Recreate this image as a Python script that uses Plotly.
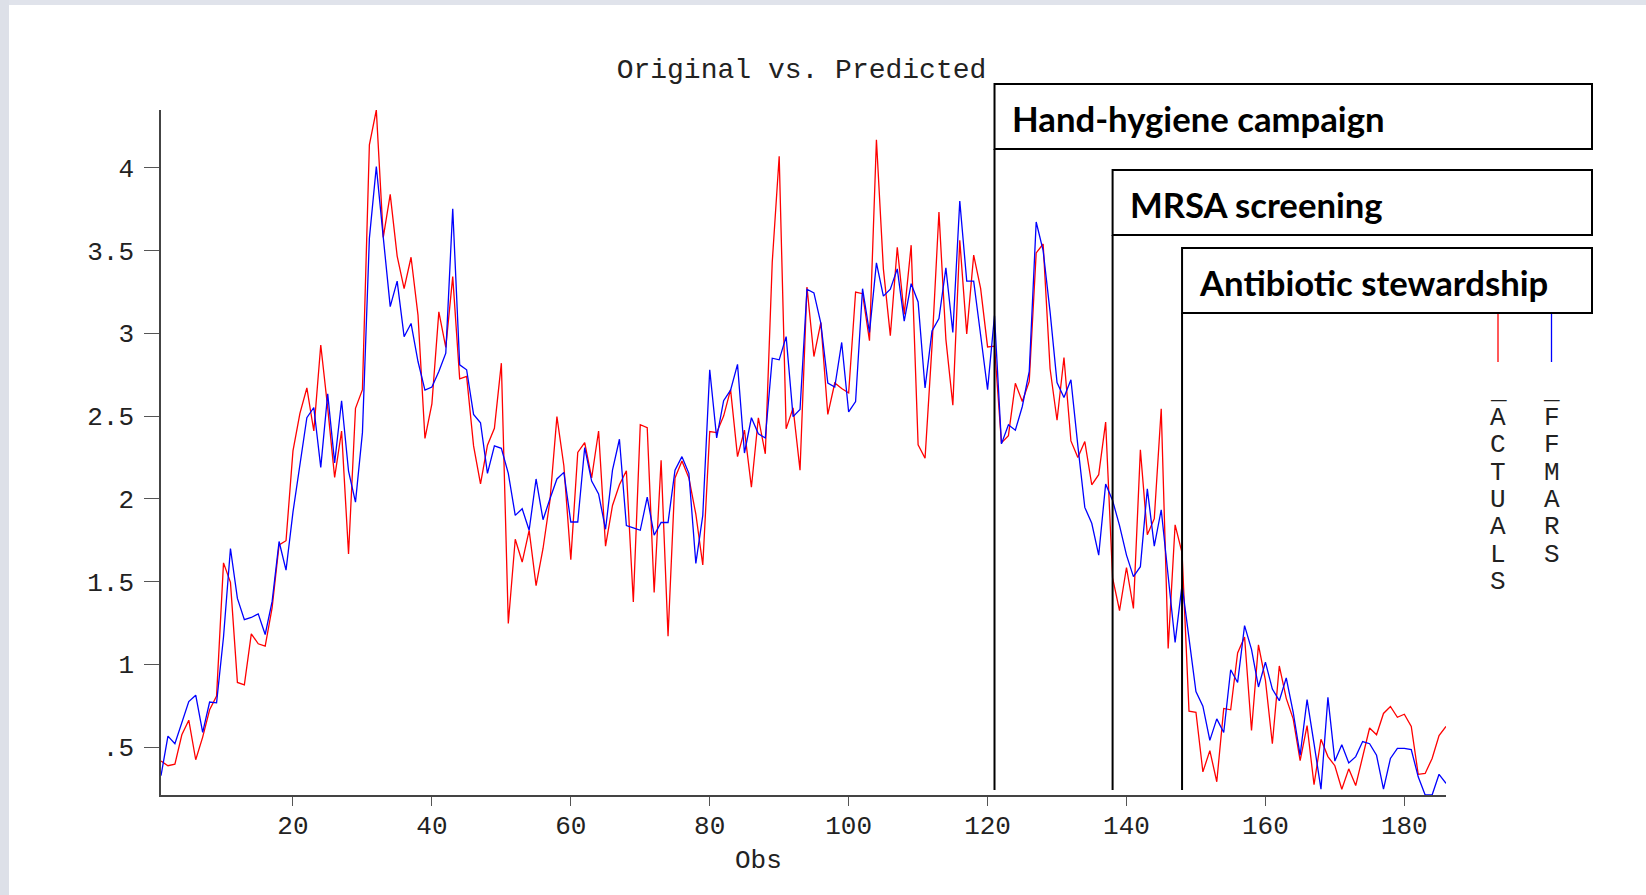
import plotly.graph_objects as go

# ---- data -------------------------------------------------------------
obs = list(range(1, 187))

actuals = [
    0.415, 0.387, 0.396, 0.574, 0.662, 0.423, 0.56, 0.725, 0.808, 1.613,
    1.495, 0.89, 0.876, 1.184, 1.124, 1.11, 1.343, 1.722, 1.747, 2.29,
    2.516, 2.67, 2.41, 2.93, 2.55, 2.13, 2.41, 1.667, 2.547, 2.66,
    4.14, 4.35, 3.58, 3.84, 3.467, 3.27, 3.46, 3.11, 2.365, 2.574,
    3.13, 2.915, 3.343, 2.725, 2.74, 2.32, 2.09, 2.324, 2.426, 2.82,
    1.247, 1.756, 1.618, 1.81, 1.475, 1.70, 1.99, 2.497, 2.20, 1.632,
    2.28, 2.34, 2.126, 2.41, 1.714, 1.96, 2.085, 2.17, 1.376, 2.448,
    2.43, 1.434, 2.233, 1.17, 2.126, 2.228, 2.126, 1.907, 1.60, 2.407,
    2.40, 2.50, 2.66, 2.255, 2.415, 2.07, 2.49, 2.272, 3.43, 4.07,
    2.423, 2.55, 2.173, 3.28, 2.86, 3.066, 2.51, 2.70, 2.667, 2.64,
    3.25, 3.24, 2.956, 4.17, 3.39, 2.986, 3.52, 3.115, 3.533, 2.327,
    2.245, 2.923, 3.733, 2.964, 2.566, 3.563, 2.997, 3.473, 3.272, 2.918,
    2.923, 2.338, 2.382, 2.698, 2.588, 2.71, 3.486, 3.54, 2.786, 2.475,
    2.854, 2.35, 2.25, 2.346, 2.085, 2.146, 2.464, 1.522, 1.324, 1.585,
    1.338, 2.297, 1.783, 1.88, 2.544, 1.096, 1.843, 1.673, 0.717, 0.71,
    0.35, 0.478, 0.29, 0.733, 0.725, 1.068, 1.165, 0.60, 1.118, 0.904,
    0.52, 0.99, 0.794, 0.67, 0.418, 0.63, 0.272, 0.547, 0.442, 0.387,
    0.245, 0.368, 0.267, 0.45, 0.615, 0.574, 0.703, 0.745, 0.68, 0.698,
    0.624, 0.335, 0.34, 0.431, 0.569, 0.624,
]

ffmars = [
    0.327, 0.566, 0.52, 0.648, 0.775, 0.813, 0.588, 0.772, 0.767, 1.165,
    1.70, 1.398, 1.27, 1.283, 1.305, 1.18, 1.38, 1.742, 1.569, 1.92,
    2.21, 2.49, 2.552, 2.19, 2.635, 2.217, 2.593, 2.168, 1.98, 2.40,
    3.574, 4.008, 3.58, 3.162, 3.316, 2.98, 3.06, 2.83, 2.657, 2.676,
    2.77, 2.88, 3.753, 2.81, 2.78, 2.51, 2.46, 2.154, 2.32, 2.305,
    2.154, 1.90, 1.94, 1.81, 2.12, 1.874, 2.00, 2.12, 2.16, 1.86,
    1.86, 2.31, 2.107, 2.03, 1.816, 2.173, 2.36, 1.838, 1.824, 1.81,
    2.01, 1.78, 1.857, 1.857, 2.173, 2.255, 2.154, 1.61, 1.90, 2.78,
    2.368, 2.593, 2.657, 2.813, 2.277, 2.49, 2.393, 2.368, 2.85, 2.84,
    2.98, 2.497, 2.54, 3.267, 3.245, 3.06, 2.70, 2.676, 2.945, 2.525,
    2.588, 3.27, 3.005, 3.426, 3.225, 3.267, 3.39, 3.074, 3.30, 3.19,
    2.67, 3.014, 3.09, 3.396, 3.005, 3.80, 3.316, 3.316, 2.99, 2.66,
    3.107, 2.332, 2.448, 2.415, 2.558, 2.77, 3.673, 3.50, 3.13, 2.703,
    2.613, 2.72, 2.32, 1.948, 1.852, 1.66, 2.09, 1.99, 1.838, 1.66,
    1.53, 1.59, 2.06, 1.714, 1.934, 1.54, 1.132, 1.48, 1.15, 0.835,
    0.747, 0.54, 0.67, 0.588, 0.967, 0.89, 1.234, 1.09, 0.863, 1.013,
    0.85, 0.78, 0.918, 0.71, 0.45, 0.786, 0.52, 0.245, 0.80, 0.415,
    0.514, 0.404, 0.442, 0.533, 0.52, 0.45, 0.245, 0.431, 0.492, 0.492,
    0.484, 0.32, 0.21, 0.21, 0.335, 0.28,
]

series_names = ["_ACTUALS", "_FFMARS"]
series_colors = ["#ff0000", "#0000ff"]

y_tickvals = [0.5, 1, 1.5, 2, 2.5, 3, 3.5, 4]
y_ticktext = [".5", "1", "1.5", "2", "2.5", "3", "3.5", "4"]
x_tickvals = [20, 40, 60, 80, 100, 120, 140, 160, 180]

interventions = ["Hand-hygiene campaign", "MRSA screening", "Antibiotic stewardship"]
intervention_obs = [121, 138, 148]

# ---- page geometry (pixels) -------------------------------------------
W, H = 1646, 895
M_L, M_R, M_T, M_B = 161, 200, 110, 100
PW, PH = W - M_L - M_R, H - M_T - M_B

def px_x(px):
    return (px - M_L) / PW

def px_y(py):
    return (H - M_B - py) / PH

mono = "Courier New, Liberation Mono, monospace"
label_font = "Lato, Open Sans, sans-serif"

x_min, x_max = obs[0], obs[-1]
y_min = min(min(actuals), min(ffmars))
y_max = max(max(actuals), max(ffmars))

def obs_to_paper(v):
    return (v - x_min) / (x_max - x_min)

fig = go.Figure()
for name, vals, col in zip(series_names, [actuals, ffmars], series_colors):
    fig.add_trace(go.Scatter(x=obs, y=vals, mode="lines", name=name,
                             line=dict(color=col, width=1.3),
                             showlegend=False, hoverinfo="x+y"))

shapes = []
annotations = []

# screenshot frame strips
shapes.append(dict(type="rect", xref="paper", yref="paper", layer="below",
                   x0=px_x(0), x1=px_x(W), y0=px_y(0), y1=px_y(5),
                   fillcolor="#e0e3eb", line=dict(width=0)))
shapes.append(dict(type="rect", xref="paper", yref="paper", layer="below",
                   x0=px_x(0), x1=px_x(9), y0=px_y(0), y1=px_y(H),
                   fillcolor="#dde0e8", line=dict(width=0)))

# legend keys: short vertical line + stacked letters
legend_cols = [1498, 1551.5]
for name, col, cx in zip(series_names, series_colors, legend_cols):
    shapes.append(dict(type="line", xref="paper", yref="paper",
                       x0=px_x(cx), x1=px_x(cx), y0=px_y(313), y1=px_y(362),
                       line=dict(color=col, width=1.3)))
    for i, ch in enumerate(name):
        annotations.append(dict(text=ch, xref="paper", yref="paper",
                                x=px_x(cx), y=px_y(390.7 + i * 27.3),
                                xanchor="center", yanchor="middle",
                                showarrow=False,
                                font=dict(family=mono, size=26, color="#222")))

# intervention boxes with their vertical start lines
box_tops = [84, 170, 248]
box_h = 65
box_right = 1592
for label, start, top in zip(interventions, intervention_obs, box_tops):
    bottom = top + box_h
    shapes.append(dict(type="line", xref="x", yref="paper",
                       x0=start, x1=start, y0=px_y(790), y1=px_y(bottom),
                       line=dict(color="#000", width=2)))
    shapes.append(dict(type="rect", xref="paper", yref="paper",
                       x0=obs_to_paper(start), x1=px_x(box_right),
                       y0=px_y(bottom), y1=px_y(top),
                       fillcolor="white", line=dict(color="#000", width=2)))
    annotations.append(dict(text="<b>" + label + "</b>", xref="paper", yref="paper",
                            x=obs_to_paper(start) + 15 / PW, y=px_y(top + box_h / 2 + 2),
                            xanchor="left", yanchor="middle", showarrow=False,
                            font=dict(family=label_font, size=34.7, color="#000")))

# x axis title
annotations.append(dict(text="Obs", xref="paper", yref="paper",
                        x=px_x(758), y=px_y(861), xanchor="center", yanchor="middle",
                        showarrow=False, font=dict(family=mono, size=26, color="#222")))

fig.update_layout(
    width=W, height=H, autosize=False,
    margin=dict(l=M_L, r=M_R, t=M_T, b=M_B, pad=0),
    paper_bgcolor="white", plot_bgcolor="white",
    title=dict(text="Original vs. Predicted", x=801.5 / W, xanchor="center",
               y=1 - 68 / H, yanchor="middle",
               font=dict(family=mono, size=28, color="#222")),
    shapes=shapes, annotations=annotations,
    xaxis=dict(range=[x_min, x_max], tickvals=x_tickvals, ticks="outside",
               ticklen=9, tickwidth=1.3, tickcolor="#555",
               ticklabelstandoff=-3,
               showline=True, linecolor="#444", linewidth=1.5,
               showgrid=False, zeroline=False,
               tickfont=dict(family=mono, size=26, color="#222")),
    yaxis=dict(range=[y_min, y_max], tickvals=y_tickvals, ticktext=y_ticktext,
               ticks="outside", ticklen=15, tickwidth=1.3, tickcolor="#555",
               ticklabelstandoff=5,
               showline=True, linecolor="#444", linewidth=1.5,
               showgrid=False, zeroline=False,
               tickfont=dict(family=mono, size=26, color="#222")),
)

fig.write_html("out.html")
